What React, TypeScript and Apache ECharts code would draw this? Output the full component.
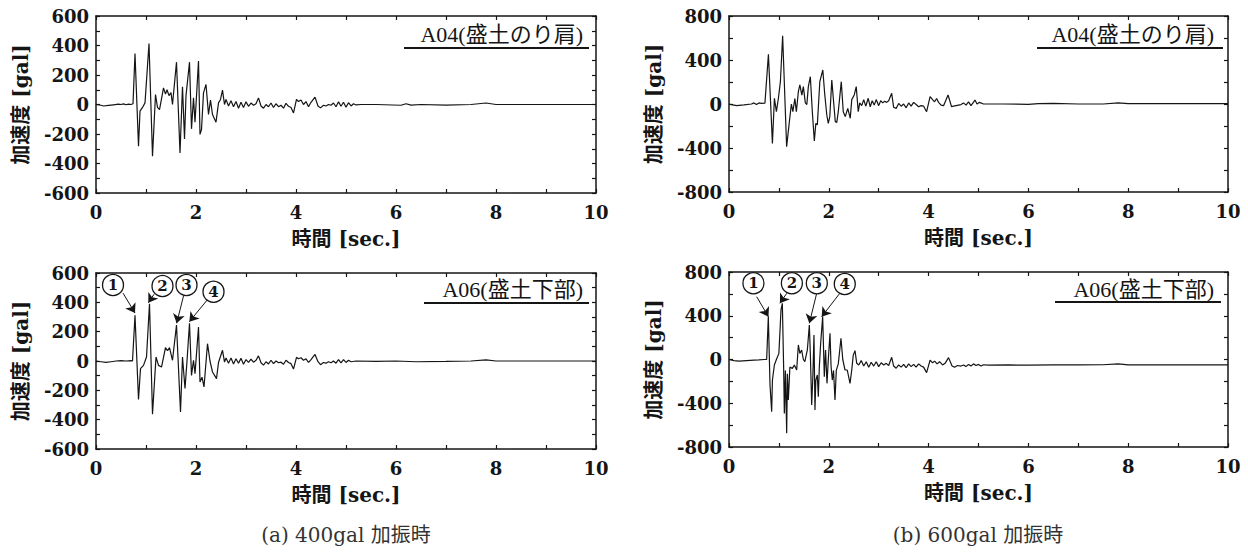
import React, { useEffect, useRef } from "react";
import * as echarts from "echarts";

// ---- data: time [sec], acceleration [gal] ----
const a04_400: [number, number][] = [
  [0, 0], [0.1, -5], [0.15, -10], [0.25, -6], [0.35, -2], [0.45, 2], [0.5, 0], [0.55, 4], [0.6, -2], [0.65, 3], [0.7, 0], [0.74, 5],
  [0.78, 346], [0.85, -283], [0.88, -45], [0.93, -20], [0.98, 11], [1.06, 414], [1.13, -350], [1.19, 68], [1.23, -20], [1.27, -35],
  [1.3, 20], [1.35, 113], [1.39, 70], [1.42, 100], [1.46, 60], [1.5, 80], [1.53, 0], [1.61, 287], [1.68, -328], [1.73, 120],
  [1.77, -233], [1.8, 60], [1.87, 287], [1.91, -165], [1.95, 45], [1.98, -120], [2.05, 294], [2.08, -203], [2.11, -170], [2.15, 79],
  [2.2, 136], [2.25, -68], [2.29, 30], [2.33, -68], [2.4, -120], [2.45, 11], [2.49, 34], [2.53, 97], [2.57, 0], [2.6, 35],
  [2.65, -10], [2.7, 25], [2.75, -15], [2.8, 20], [2.85, -25], [2.9, 15], [2.95, -20], [3.0, 18], [3.05, -12], [3.1, 10], [3.15, -5],
  [3.2, 5], [3.25, 45], [3.3, -10], [3.35, -25], [3.4, 0], [3.45, -15], [3.5, 10], [3.55, -20], [3.6, 5], [3.65, -15], [3.7, -5],
  [3.75, -25], [3.8, 8], [3.85, -12], [3.9, -20], [3.95, -57], [4.01, 34], [4.05, 20], [4.1, 30], [4.15, 0], [4.2, 20], [4.25, -15],
  [4.3, 15], [4.38, 50], [4.44, -10], [4.49, -23], [4.55, -5], [4.6, -10], [4.65, 0], [4.7, -5], [4.75, 10], [4.8, -15], [4.85, 18],
  [4.9, -12], [4.95, 15], [5.0, -18], [5.05, 12], [5.1, -10], [5.15, 5], [5.2, -3], [5.3, 0], [5.6, 0], [6.1, -5], [6.2, 5],
  [6.3, -4], [6.5, 0], [7, -4], [7.5, 0], [7.8, 10], [8, 0], [9, 0], [10, 0],
];

const a06_400: [number, number][] = [
  [0, 0], [0.1, -5], [0.2, -10], [0.3, -5], [0.4, 0], [0.5, 2], [0.6, 0], [0.7, 3], [0.73, 0], [0.78, 311], [0.85, -263],
  [0.89, -52], [0.95, -30], [1.01, 27], [1.07, 390], [1.13, -363], [1.2, 27], [1.25, -30], [1.31, -41], [1.39, 91], [1.43, 70],
  [1.47, 91], [1.53, 5], [1.61, 245], [1.69, -347], [1.73, 27], [1.78, -188], [1.82, 0], [1.87, 257], [1.91, -98], [1.95, 5],
  [1.98, -86], [2.05, 232], [2.08, -143], [2.12, -110], [2.16, -177], [2.23, 118], [2.28, 0], [2.33, -75], [2.41, -120],
  [2.45, -10], [2.53, 73], [2.57, -7], [2.6, 20],
  [2.65, -15], [2.7, 20], [2.75, -20], [2.8, 15], [2.85, -15], [2.9, 18], [2.95, -22], [3.0, 10], [3.05, -10], [3.1, 12],
  [3.15, -8], [3.2, 5], [3.25, 35], [3.3, -12], [3.35, -28], [3.4, -5], [3.45, -20], [3.5, 5], [3.55, -18], [3.6, 0], [3.65, -12],
  [3.7, -8], [3.75, -22], [3.8, 5], [3.85, -10], [3.9, -18], [3.95, -55], [4.01, 25], [4.05, 15], [4.1, 22], [4.15, 5], [4.2, 15],
  [4.25, -10], [4.3, 10], [4.38, 45], [4.44, -5], [4.49, -25], [4.55, -10], [4.6, -15], [4.65, -5], [4.7, -12], [4.75, 0],
  [4.8, -15], [4.85, 10], [4.9, -12], [4.95, 10], [5.0, -10], [5.05, 5], [5.1, -5], [5.2, 0], [5.6, -3], [6.0, 0], [6.4, -5],
  [7, -3], [7.5, 0], [7.8, 8], [8, 0], [9, 0], [10, 0],
];

const a04_600: [number, number][] = [
  [0, 0], [0.05, -5], [0.15, -15], [0.3, -8], [0.45, 0], [0.5, 10], [0.55, -5], [0.6, 10], [0.65, 5], [0.72, 8], [0.79, 451],
  [0.87, -358], [0.91, 52], [0.95, -70], [0.99, 52], [1.03, 203], [1.075, 621], [1.155, -388], [1.21, -160], [1.25, 0],
  [1.28, -70], [1.32, 50], [1.35, -70], [1.39, 112], [1.42, 173], [1.46, 80], [1.49, 158], [1.53, 10], [1.56, -5], [1.59, 158],
  [1.63, 248], [1.67, -70], [1.71, -336], [1.74, -176], [1.77, -190], [1.82, 203], [1.88, 309], [1.92, 82], [1.96, -100],
  [1.99, -176], [2.02, -115], [2.06, 218], [2.1, 0], [2.13, -160], [2.16, -167], [2.19, -70], [2.25, 203], [2.29, -70],
  [2.33, -115], [2.38, -40], [2.43, -130], [2.46, 40], [2.51, 82], [2.55, 158], [2.59, -70], [2.62, 10], [2.66, -15],
  [2.7, 40], [2.74, -20], [2.79, 52], [2.83, -25], [2.87, 30], [2.91, -10], [2.95, 40], [3.0, -15], [3.04, 30], [3.08, 10],
  [3.12, 25], [3.16, 15], [3.2, 30], [3.26, 97], [3.3, -30], [3.35, -40], [3.4, 5], [3.45, -20], [3.5, 0], [3.55, -35], [3.6, 10],
  [3.65, -20], [3.7, 15], [3.75, -5], [3.8, -25], [3.85, -15], [3.9, -20], [3.96, -70], [4.03, 67], [4.08, 40], [4.12, 20],
  [4.16, 50], [4.2, 15], [4.25, -10], [4.3, -15], [4.39, 82], [4.46, -24], [4.5, -20], [4.55, -15], [4.6, -10], [4.65, -5],
  [4.7, 10], [4.75, -10], [4.8, 20], [4.85, -15], [4.93, 36], [4.97, 0], [5.02, 15], [5.1, 0], [5.5, 0], [6, -3], [6.2, 3],
  [6.5, 5], [7, 0], [7.5, 0], [7.8, 10], [8, 3], [9, 3], [10, 3],
];

const a06_600: [number, number][] = [
  [0, 0], [0.1, -10], [0.2, -15], [0.35, -10], [0.5, -5], [0.6, -3], [0.7, 0], [0.755, 0], [0.788, 392], [0.822, -233],
  [0.855, -477], [0.87, -190], [0.909, -50], [0.95, 0], [1.0, 56], [1.042, 453], [1.069, 514], [1.096, -96], [1.109, -493],
  [1.13, -100], [1.156, -675], [1.17, -130], [1.189, -370], [1.22, -70], [1.27, -81], [1.31, -50], [1.356, -96], [1.39, 133],
  [1.42, 55], [1.456, 87], [1.49, 0], [1.52, -20], [1.57, 87], [1.61, 316], [1.63, 55], [1.657, -416], [1.68, -160],
  [1.703, 224], [1.723, -462], [1.74, -190], [1.77, -142], [1.79, -340], [1.81, -70], [1.837, 148], [1.877, 392], [1.91, -157],
  [1.935, 87], [1.964, -218], [1.99, 0], [2.024, 239], [2.045, -60], [2.07, -188], [2.095, -100], [2.124, -370], [2.15, -100],
  [2.19, -40], [2.244, 194], [2.28, 0], [2.325, -96], [2.37, -96], [2.425, -218], [2.46, -96], [2.49, 40], [2.525, 81],
  [2.56, -35], [2.6, -50],
  [2.65, -10], [2.7, -60], [2.75, -20], [2.8, -70], [2.85, -25], [2.9, -60], [2.95, -20], [3.0, -65], [3.05, -30], [3.1, -50],
  [3.15, -35], [3.2, -55], [3.26, 20], [3.3, -60], [3.35, -80], [3.4, -50], [3.45, -70], [3.5, -45], [3.55, -75], [3.6, -40],
  [3.65, -65], [3.7, -45], [3.75, -70], [3.8, -40], [3.85, -60], [3.9, -70], [3.96, -120], [4.03, -5], [4.08, -30], [4.12, -15],
  [4.17, -40], [4.22, -20], [4.28, -50], [4.33, -35], [4.4, 17], [4.47, -60], [4.52, -70], [4.58, -55], [4.65, -60], [4.7, -50],
  [4.75, -65], [4.8, -45], [4.85, -60], [4.9, -40], [4.95, -55], [5.0, -45], [5.05, -60], [5.1, -48], [5.2, -52], [5.6, -50],
  [6, -52], [6.5, -50], [7, -50], [7.5, -48], [7.8, -40], [8, -50], [9, -50], [10, -50],
];

// circled-number annotations: label position, arrow start, arrow tip
const markerNames = ["1", "2", "3", "4"];
const markerPos400: [number, number][] = [[0.34, 518], [1.33, 511], [1.81, 518], [2.35, 472]];
const arrowFrom400: [number, number][] = [[0.54, 463], [1.16, 455], [1.75, 443], [2.25, 427]];
const arrowTo400: [number, number][] = [[0.78, 327], [1.047, 397], [1.613, 257], [1.867, 268]];
const markerPos600: [number, number][] = [[0.49, 697], [1.26, 697], [1.76, 697], [2.32, 690]];
const arrowFrom600: [number, number][] = [[0.555, 574], [1.157, 605], [1.757, 605], [2.22, 605]];
const arrowTo600: [number, number][] = [[0.79, 391], [1.02, 514], [1.61, 331], [1.857, 391]];

const xTicks = { min: 0, max: 10, interval: 2 };
const yTicks400 = { min: -600, max: 600, interval: 200 };
const yTicks600 = { min: -800, max: 800, interval: 400 };

const xName = "時間 [sec.]";
const yName = "加速度 [gal]";
const panelTitles = ["A04(盛土のり肩)", "A06(盛土下部)", "A04(盛土のり肩)", "A06(盛土下部)"];
const captions = ["(a) 400gal 加振時", "(b) 600gal 加振時"];

// ---- layout ----
const grids = [
  { left: 96, top: 16, width: 500, height: 177 },
  { left: 96, top: 273, width: 500, height: 176 },
  { left: 729, top: 16, width: 499, height: 176 },
  { left: 729, top: 272, width: 499, height: 175 },
];
const titleAnchors = [
  { x: 583, y: 34, ux1: 404, ux2: 589, uy: 48 },
  { x: 583, y: 289, ux1: 424, ux2: 589, uy: 303 },
  { x: 1214, y: 34, ux1: 1037, ux2: 1223, uy: 48 },
  { x: 1214, y: 289, ux1: 1055, ux2: 1221, uy: 302 },
];
const captionAnchors = [{ x: 346, y: 535 }, { x: 978, y: 535 }];

const INK = "#151515";
const SERIF = "'DejaVu Serif', 'Noto Sans CJK JP', serif";
const TITLE_FONT = "'Liberation Serif', 'Noto Sans CJK JP', serif";

function buildOption() {
  const lineStyle = { color: INK, width: 1.5 };
  const tickStyle = { color: INK, width: 1.2 };
  const labelStyle = { fontFamily: SERIF, fontWeight: "bold" as const, fontSize: 18, color: INK };
  const nameStyle = { fontFamily: SERIF, fontWeight: "bold" as const, fontSize: 20, color: INK };

  const xAxis: any[] = [];
  const yAxis: any[] = [];
  const series: any[] = [];
  const datasets = [a04_400, a06_400, a04_600, a06_600];

  grids.forEach((_, i) => {
    const yr = i < 2 ? yTicks400 : yTicks600;
    const common = {
      gridIndex: i,
      type: "value",
      axisLine: { show: true, onZero: false, lineStyle },
      axisTick: { show: true, inside: true, length: 4, lineStyle: tickStyle },
      minorTick: { show: true, splitNumber: 2, length: 4, lineStyle: tickStyle },
      splitLine: { show: false },
      minorSplitLine: { show: false },
    };
    xAxis.push({
      ...common, ...xTicks, position: "bottom",
      axisLabel: { ...labelStyle, margin: 10 },
      name: xName, nameLocation: "middle", nameGap: 36, nameMoveOverlap: false, nameTextStyle: nameStyle,
    });
    xAxis.push({ ...common, ...xTicks, position: "top", axisLabel: { show: false } });
    yAxis.push({
      ...common, ...yr, position: "left",
      axisLabel: { ...labelStyle, margin: 7 },
      name: yName, nameLocation: "middle", nameGap: 65, nameMoveOverlap: false, nameTextStyle: nameStyle,
    });
    yAxis.push({ ...common, ...yr, position: "right", axisLabel: { show: false } });

    const s: any = {
      type: "line",
      xAxisIndex: i * 2,
      yAxisIndex: i * 2,
      data: datasets[i],
      showSymbol: false,
      symbol: "none",
      lineStyle: { color: INK, width: 1.2 },
      silent: true,
    };
    if (i === 1 || i === 3) {
      const pos = i === 1 ? markerPos400 : markerPos600;
      const from = i === 1 ? arrowFrom400 : arrowFrom600;
      const to = i === 1 ? arrowTo400 : arrowTo600;
      s.markPoint = {
        silent: true,
        symbol: "circle",
        symbolSize: 21,
        itemStyle: { color: "#fff", borderColor: INK, borderWidth: 1.3 },
        label: {
          show: true, position: "inside", formatter: "{b}",
          fontFamily: SERIF, fontWeight: "bold", fontSize: 15, color: INK,
        },
        data: markerNames.map((n, k) => ({ name: n, coord: pos[k] })),
      };
      s.markLine = {
        silent: true,
        symbol: ["none", "arrow"],
        symbolSize: 9,
        label: { show: false },
        lineStyle: { color: INK, width: 1, type: "solid" },
        data: markerNames.map((_, k) => [{ coord: from[k] }, { coord: to[k] }]),
      };
    }
    series.push(s);
  });

  const graphic: any[] = [];
  titleAnchors.forEach((a, i) => {
    graphic.push({
      type: "text", x: a.x, y: a.y, silent: true,
      style: {
        text: panelTitles[i], fill: INK, fontSize: 22, fontFamily: TITLE_FONT,
        align: "right", verticalAlign: "middle", textAlign: "right", textVerticalAlign: "middle",
      },
    });
    graphic.push({
      type: "line", silent: true,
      shape: { x1: a.ux1, y1: a.uy, x2: a.ux2, y2: a.uy },
      style: { stroke: INK, lineWidth: 2 },
    });
  });
  captionAnchors.forEach((c, i) => {
    graphic.push({
      type: "text", x: c.x, y: c.y, silent: true,
      style: {
        text: captions[i], fill: "#333", fontSize: 20, fontFamily: SERIF,
        align: "center", verticalAlign: "middle", textAlign: "center", textVerticalAlign: "middle",
      },
    });
  });

  return {
    animation: false,
    backgroundColor: "#fff",
    grid: grids,
    xAxis,
    yAxis,
    series,
    graphic,
  };
}

export default function App() {
  const ref = useRef<HTMLDivElement>(null);
  useEffect(() => {
    if (!ref.current) return;
    const chart = echarts.init(ref.current, undefined, { renderer: "svg" });
    chart.setOption(buildOption() as any);
    return () => chart.dispose();
  }, []);
  return (
    <div
      ref={ref}
      style={{ position: "absolute", left: 0, top: 0, width: 1248, height: 554, background: "#fff" }}
    />
  );
}
